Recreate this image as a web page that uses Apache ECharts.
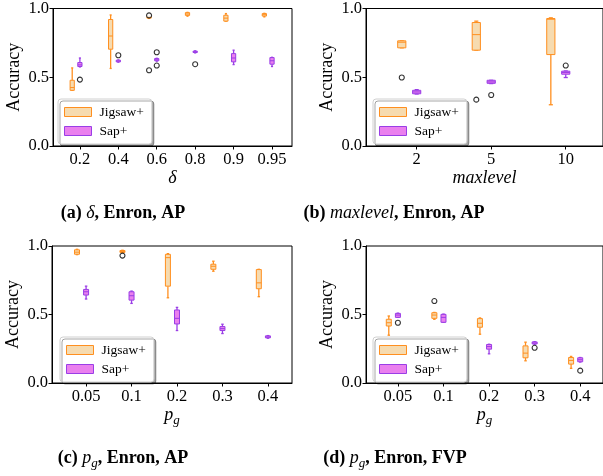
<!DOCTYPE html>
<html>
<head>
	<meta charset="UTF-8">
	<title></title>
	<script type="text/javascript" src="https://cdn.jsdelivr.net/npm/echarts@6/dist/echarts.min.js"></script>
	<style>
		html, body { margin: 0; padding: 0; background: #fff; }
		#chart { width: 603px; height: 476px; }
	</style>
</head>
<body>
<div id="chart"></div>
<script>
// box values: [min, q1, median, q3, max]
var deltaCats = ['0.2', '0.4', '0.6', '0.8', '0.9', '0.95'];
var deltaJigsaw = [
	[0.405, 0.405, 0.425, 0.478, 0.568],
	[0.564, 0.704, 0.80, 0.92, 0.953],
	[0.928, 0.93, 0.935, 0.94, 0.942],
	[0.944, 0.95, 0.96, 0.97, 0.972],
	[0.908, 0.908, 0.93, 0.951, 0.963],
	[0.939, 0.945, 0.955, 0.963, 0.965]
];
var deltaSap = [
	[0.575, 0.578, 0.59, 0.607, 0.64],
	[0.61, 0.612, 0.618, 0.624, 0.626],
	[0.617, 0.62, 0.627, 0.636, 0.638],
	[0.677, 0.68, 0.685, 0.69, 0.692],
	[0.592, 0.612, 0.64, 0.672, 0.697],
	[0.578, 0.595, 0.62, 0.643, 0.645]
];
var deltaJigsawOut = [[2, 0.551], [2, 0.95]];
var deltaSapOut = [[0, 0.483], [1, 0.66], [2, 0.682], [2, 0.585], [3, 0.595]];

var maxCats = ['2', '5', '10'];
var maxJigsaw = [
	[0.714, 0.714, 0.755, 0.765, 0.765],
	[0.697, 0.697, 0.81, 0.898, 0.908],
	[0.30, 0.665, 0.922, 0.927, 0.932]
];
var maxSap = [
	[0.378, 0.38, 0.393, 0.405, 0.41],
	[0.454, 0.456, 0.466, 0.478, 0.478],
	[0.498, 0.522, 0.535, 0.544, 0.546]
];
var maxJigsawOut = [[0, 0.498], [1, 0.337]];
var maxSapOut = [[1, 0.371], [2, 0.585]];

var pgCats = ['0.05', '0.1', '0.2', '0.3', '0.4'];
var pgApJigsaw = [
	[0.937, 0.94, 0.955, 0.972, 0.976],
	[0.952, 0.953, 0.96, 0.967, 0.969],
	[0.622, 0.707, 0.915, 0.939, 0.944],
	[0.816, 0.83, 0.852, 0.867, 0.889],
	[0.63, 0.688, 0.731, 0.828, 0.83]
];
var pgApSap = [
	[0.613, 0.642, 0.666, 0.683, 0.707],
	[0.581, 0.605, 0.637, 0.666, 0.671],
	[0.383, 0.431, 0.472, 0.533, 0.552],
	[0.361, 0.383, 0.397, 0.412, 0.429],
	[0.327, 0.33, 0.336, 0.344, 0.346]
];
var pgApJigsawOut = [[1, 0.93]];
var pgApSapOut = [];

var pgFvpJigsaw = [
	[0.349, 0.416, 0.44, 0.465, 0.489],
	[0.465, 0.472, 0.496, 0.513, 0.515],
	[0.356, 0.407, 0.436, 0.47, 0.475],
	[0.162, 0.184, 0.218, 0.271, 0.298],
	[0.107, 0.138, 0.165, 0.186, 0.194]
];
var pgFvpSap = [
	[0.479, 0.479, 0.496, 0.508, 0.51],
	[0.443, 0.443, 0.479, 0.501, 0.503],
	[0.213, 0.247, 0.266, 0.281, 0.283],
	[0.283, 0.285, 0.292, 0.3, 0.302],
	[0.153, 0.155, 0.17, 0.184, 0.186]
];
var pgFvpJigsawOut = [[1, 0.598]];
var pgFvpSapOut = [[0, 0.44], [3, 0.257], [4, 0.09]];

var FONT = 'Liberation Serif';
var JIG = {edge: '#ff8f1f', fill: '#f6dbb0', off: -0.2};
var SAP = {edge: '#9a3ee6', fill: '#ea80ee', off: 0};
var BOXW = 0.11;

var panels = [
	{cats: deltaCats, jig: deltaJigsaw, sap: deltaSap, jigOut: deltaJigsawOut, sapOut: deltaSapOut,
		grid: {left: 53, top: 8, width: 239, height: 138}, xr: [0.3, 6.52],
		name: '{i|δ}', legend: {left: 58, top: 99}, cap: [123, 213],
		capText: '{b|(a) }{i|δ}{b|, Enron, AP}'},
	{cats: maxCats, jig: maxJigsaw, sap: maxSap, jigOut: maxJigsawOut, sapOut: maxSapOut,
		grid: {left: 366, top: 8, width: 239, height: 138}, xr: [0.32, 3.5],
		name: '{i|maxlevel}', legend: {left: 373, top: 99}, cap: [394, 213],
		capText: '{b|(b) }{i|maxlevel}{b|, Enron, AP}'},
	{cats: pgCats, jig: pgApJigsaw, sap: pgApSap, jigOut: pgApJigsawOut, sapOut: pgApSapOut,
		grid: {left: 52, top: 246, width: 240, height: 137}, xr: [0.25, 5.53],
		name: '{i|p}{s|g}', legend: {left: 60, top: 337}, cap: [123, 458],
		capText: '{b|(c) }{i|p}{s|g}{b|, Enron, AP}'},
	{cats: pgCats, jig: pgFvpJigsaw, sap: pgFvpSap, jigOut: pgFvpJigsawOut, sapOut: pgFvpSapOut,
		grid: {left: 366, top: 246, width: 239, height: 137}, xr: [0.3, 5.5],
		name: '{i|p}{s|g}', legend: {left: 373, top: 337}, cap: [395, 458],
		capText: '{b|(d) }{i|p}{s|g}{b|, Enron, FVP}'}
];

function boxRenderer(style) {
	return function (params, api) {
		var x = api.value(0);
		var hw = BOXW / 2;
		var mn = api.coord([x, api.value(1)]);
		var q1 = api.coord([x, api.value(2)]);
		var md = api.coord([x, api.value(3)]);
		var q3 = api.coord([x, api.value(4)]);
		var mx = api.coord([x, api.value(5)]);
		var l = api.coord([x - hw, 0])[0];
		var r = api.coord([x + hw, 0])[0];
		var cx = mn[0];
		var cw = (r - l) / 4;
		var ls = {stroke: style.edge, lineWidth: 1.3};
		return {
			type: 'group',
			children: [
				{type: 'line', shape: {x1: cx, y1: mx[1], x2: cx, y2: q3[1]}, style: ls},
				{type: 'line', shape: {x1: cx, y1: q1[1], x2: cx, y2: mn[1]}, style: ls},
				{type: 'line', shape: {x1: cx - cw, y1: mx[1], x2: cx + cw, y2: mx[1]}, style: ls},
				{type: 'line', shape: {x1: cx - cw, y1: mn[1], x2: cx + cw, y2: mn[1]}, style: ls},
				{type: 'rect', shape: {x: l, y: q3[1], width: r - l, height: Math.max(q1[1] - q3[1], 0.5)},
					style: {fill: style.fill, stroke: style.edge, lineWidth: 1}},
				{type: 'line', shape: {x1: l, y1: md[1], x2: r, y2: md[1]}, style: {stroke: style.edge, lineWidth: 1}}
			]
		};
	};
}

var option = {
	animation: false,
	grid: [], xAxis: [], yAxis: [], series: [], legend: [], graphic: []
};

panels.forEach(function (p, k) {
	var g = p.grid;
	option.grid.push({left: g.left, top: g.top, width: g.width, height: g.height,
		show: true, borderColor: '#000', borderWidth: 1, backgroundColor: 'transparent'});
	var ticks = p.cats.map(function (c, i) { return i + 1; });
	option.xAxis.push({
		type: 'value', gridIndex: k, min: p.xr[0], max: p.xr[1],
		name: p.name, nameLocation: 'middle', nameGap: 21,
		nameTextStyle: {rich: {
			i: {fontFamily: FONT, fontStyle: 'italic', fontSize: 18, color: '#000'},
			s: {fontFamily: FONT, fontStyle: 'italic', fontSize: 13, color: '#000', verticalAlign: 'bottom', padding: [0, 0, -3, 0]}
		}},
		axisLine: {show: true, onZero: false, lineStyle: {color: '#000', width: 1}},
		axisTick: {show: true, length: 3.5, lineStyle: {color: '#000'}, customValues: ticks},
		axisLabel: {customValues: ticks, fontFamily: FONT, fontSize: 16.5, color: '#000', margin: 5,
			formatter: function (v) { return p.cats[Math.round(v) - 1]; }},
		splitLine: {show: false}
	});
	option.yAxis.push({
		type: 'value', gridIndex: k, min: 0, max: 1, interval: 0.5,
		name: 'Accuracy', nameLocation: 'middle', nameGap: 30,
		nameTextStyle: {fontFamily: FONT, fontSize: 18, color: '#000'},
		axisLine: {show: true, lineStyle: {color: '#000', width: 1}},
		axisTick: {show: true, length: 3.5, lineStyle: {color: '#000'}},
		axisLabel: {fontFamily: FONT, fontSize: 16.5, color: '#000', margin: 4,
			formatter: function (v) { return v.toFixed(1); }},
		splitLine: {show: false}
	});
	[[JIG, p.jig, 'Jigsaw+'], [SAP, p.sap, 'Sap+']].forEach(function (s) {
		option.series.push({
			type: 'custom', name: s[2], xAxisIndex: k, yAxisIndex: k,
			renderItem: boxRenderer(s[0]),
			itemStyle: {color: s[0].fill, borderColor: s[0].edge},
			encode: {x: 0, y: [1, 2, 3, 4, 5]},
			data: s[1].map(function (b, i) { return [i + 1 + s[0].off].concat(b); }),
			z: 2
		});
	});
	[[JIG, p.jigOut], [SAP, p.sapOut]].forEach(function (s) {
		option.series.push({
			type: 'scatter', xAxisIndex: k, yAxisIndex: k,
			symbol: 'circle', symbolSize: 5,
			itemStyle: {color: '#fff', borderColor: '#000', borderWidth: 1.1},
			data: s[1].map(function (o) { return [o[0] + 1 + s[0].off, o[1]]; }),
			z: 3
		});
	});
	option.legend.push({
		left: p.legend.left, top: p.legend.top, orient: 'vertical',
		itemWidth: 27, itemHeight: 9, itemGap: 5, padding: [6, 8, 6, 6],
		backgroundColor: '#fff', borderColor: '#d0d0d0', borderWidth: 1, borderRadius: 3,
		shadowColor: 'rgba(0,0,0,0.35)', shadowOffsetX: 2, shadowOffsetY: 2, shadowBlur: 0,
		selectedMode: false,
		textStyle: {fontFamily: FONT, fontSize: 13.5, color: '#000', padding: [0, 0, 0, 3]},
		data: [
			{name: 'Jigsaw+', icon: 'rect', itemStyle: {color: JIG.fill, borderColor: JIG.edge, borderWidth: 1}},
			{name: 'Sap+', icon: 'rect', itemStyle: {color: SAP.fill, borderColor: SAP.edge, borderWidth: 1}}
		]
	});
	option.graphic.push({
		type: 'text', x: p.cap[0], y: p.cap[1],
		style: {
			text: p.capText, align: 'center', verticalAlign: 'middle',
			rich: {
				b: {fontFamily: FONT, fontWeight: 'bold', fontSize: 18, fill: '#000'},
				i: {fontFamily: FONT, fontStyle: 'italic', fontSize: 18, fill: '#000'},
				s: {fontFamily: FONT, fontStyle: 'italic', fontSize: 13, fill: '#000', verticalAlign: 'bottom', padding: [0, 0, -3, 0]}
			}
		}
	});
});

var myChart = echarts.init(document.getElementById('chart'));
myChart.setOption(option);
</script>
</body>
</html>
